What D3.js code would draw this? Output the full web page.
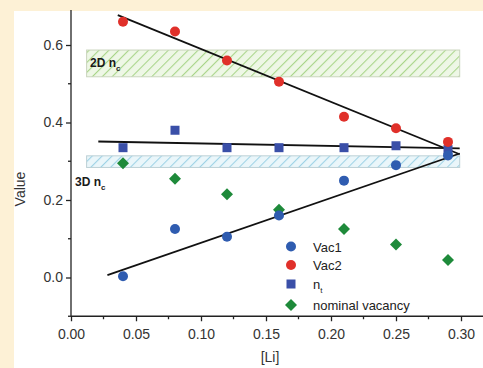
<!DOCTYPE html>
<html><head><meta charset="utf-8">
<script src="https://cdn.jsdelivr.net/npm/d3@7"></script>
<style>body{margin:0;background:#fdf1d6;}svg{display:block;}</style>
</head><body><svg id="c" width="483" height="368"></svg>
<script>
const xs = [0.04, 0.08, 0.12, 0.16, 0.21, 0.25, 0.29];
const vac1 = [0.003, 0.125, 0.105, 0.16, 0.25, 0.29, 0.315];
const vac2 = [0.66, 0.635, 0.56, 0.505, 0.415, 0.385, 0.35];
const nt = [0.335, 0.38, 0.335, 0.335, 0.335, 0.34, 0.33];
const nominal = [0.295, 0.255, 0.215, 0.175, 0.125, 0.085, 0.045];
const fitVac1 = [[0.028, 0.006], [0.299, 0.320]];
const fitVac2 = [[0.036, 0.677], [0.299, 0.318]];
const fitNt = [[0.021, 0.351], [0.299, 0.333]];
const band2D = {x: [0.012, 0.299], y: [0.518, 0.587], label: "2D n", sub: "c"};
const band3D = {x: [0.012, 0.299], y: [0.284, 0.314], label: "3D n", sub: "c"};
const xTicks = [0, 0.05, 0.10, 0.15, 0.20, 0.25, 0.30];
const yTicks = [0.0, 0.2, 0.4, 0.6];
const legendItems = ["Vac1", "Vac2", "n_t", "nominal vacancy"];

const svg = d3.select("#c");
svg.append("rect").attr("x", 14).attr("y", 11).attr("width", 469).attr("height", 357).attr("fill", "#ffffff");

const x = d3.scaleLinear().domain([0, 0.3]).range([71, 461]);
const y = d3.scaleLinear().domain([0, 0.6]).range([277.5, 45]);
const xMin = 0, yMin = -0.1, xMaxPx = 483, yMaxPx = 10;

const defs = svg.append("defs");
function hatch(id, color){
  const p = defs.append("pattern").attr("id", id).attr("patternUnits", "userSpaceOnUse")
    .attr("width", 7).attr("height", 7).attr("patternTransform", "rotate(45)");
  p.append("line").attr("x1", 0).attr("y1", 0).attr("x2", 0).attr("y2", 7)
    .attr("stroke", color).attr("stroke-width", 2.2);
}
hatch("hg", "#a9d58a");
hatch("hb", "#9fd3e6");

function band(b, fillId, fillBg, stroke){
  const r = {x: x(b.x[0]), y: y(b.y[1]), w: x(b.x[1]) - x(b.x[0]), h: y(b.y[0]) - y(b.y[1])};
  svg.append("rect").attr("x", r.x).attr("y", r.y).attr("width", r.w).attr("height", r.h).attr("fill", fillBg);
  svg.append("rect").attr("x", r.x).attr("y", r.y).attr("width", r.w).attr("height", r.h)
    .attr("fill", `url(#${fillId})`).attr("stroke", stroke).attr("stroke-width", 1);
}
band(band2D, "hg", "#eef7e6", "#c9d4bd");
band(band3D, "hb", "#eaf6fa", "#bcd0d6");

function bandLabel(b, px, py){
  const t = svg.append("text").attr("x", px).attr("y", py).attr("font-family", "Arial, Liberation Sans, sans-serif")
    .attr("font-weight", "bold").attr("font-size", 12).attr("fill", "#1a1a1a");
  t.append("tspan").text(b.label);
  t.append("tspan").attr("dy", 4).attr("font-size", 8).text(b.sub);
}
bandLabel(band2D, 90, 67);
bandLabel(band3D, 75, 186);

// axes
const xAxis = d3.axisBottom(x).tickValues(xTicks).tickFormat(d3.format(".2f")).tickSize(5).tickSizeOuter(0);
const gx = svg.append("g").attr("transform", `translate(0,${y(yMin)})`).call(xAxis);
gx.select(".domain").attr("d", `M${x(xMin)},0H${xMaxPx}`);
const xMinor = d3.range(0.025, 0.31, 0.05);
gx.selectAll(".minor").data(xMinor).enter().append("line").attr("x1", d => x(d)).attr("x2", d => x(d))
  .attr("y1", 0).attr("y2", 3).attr("stroke", "#222");

const yAxis = d3.axisLeft(y).tickValues(yTicks).tickFormat(d3.format(".1f")).tickSize(5).tickSizeOuter(0);
const gy = svg.append("g").attr("transform", `translate(${x(xMin)},0)`).call(yAxis);
gy.select(".domain").attr("d", `M0,${y(yMin)}V${yMaxPx}`);
const yMinor = [-0.1, 0.1, 0.3, 0.5];
gy.selectAll(".minor").data(yMinor).enter().append("line").attr("y1", d => y(d)).attr("y2", d => y(d))
  .attr("x1", 0).attr("x2", -3).attr("stroke", "#222");

[gx, gy].forEach(g => {
  g.selectAll("path, line").attr("stroke", "#222").attr("stroke-width", 1.3);
  g.selectAll("text").attr("font-family", "Arial, Liberation Sans, sans-serif").attr("font-size", 14).attr("fill", "#333");
});
gx.selectAll(".tick text").attr("dy", "1.05em");

svg.append("text").attr("x", 270).attr("y", 362).attr("text-anchor", "middle")
  .attr("font-family", "Arial, Liberation Sans, sans-serif").attr("font-size", 14).attr("fill", "#333").text("[Li]");
svg.append("text").attr("transform", "translate(25,189) rotate(-90)").attr("text-anchor", "middle")
  .attr("font-family", "Arial, Liberation Sans, sans-serif").attr("font-size", 14).attr("fill", "#333").text("Value");

// fit lines
const line = d3.line().x(d => x(d[0])).y(d => y(d[1]));
[fitVac1, fitVac2, fitNt].forEach(f => {
  svg.append("path").attr("d", line(f)).attr("stroke", "#111").attr("stroke-width", 1.8).attr("fill", "none");
});

// markers
function circle(g, cx, cy, color){
  g.append("circle").attr("cx", cx).attr("cy", cy).attr("r", 5).attr("fill", color);
}
function square(g, cx, cy){
  g.append("rect").attr("x", cx - 4.5).attr("y", cy - 4.5).attr("width", 9).attr("height", 9).attr("fill", "#3a4fa8");
}
function diamond(g, cx, cy){
  g.append("path").attr("d", `M${cx},${cy-6}L${cx+6},${cy}L${cx},${cy+6}L${cx-6},${cy}Z`).attr("fill", "#1e8a3a");
}
const gm = svg.append("g");
xs.forEach((xv, i) => diamond(gm, x(xv), y(nominal[i])));
xs.forEach((xv, i) => square(gm, x(xv), y(nt[i])));
xs.forEach((xv, i) => circle(gm, x(xv), y(vac2[i]), "#e0302a"));
xs.forEach((xv, i) => circle(gm, x(xv), y(vac1[i]), "#2f5cb0"));

// legend
const lg = svg.append("g");
const ly = [246.5, 265, 284, 305];
circle(lg, 291, ly[0], "#2f5cb0");
circle(lg, 291, ly[1], "#e0302a");
square(lg, 291, ly[2]);
diamond(lg, 291, ly[3]);
legendItems.forEach((t, i) => {
  const tx = lg.append("text").attr("x", 313).attr("y", ly[i] + 5).attr("font-family", "Arial, Liberation Sans, sans-serif")
    .attr("font-size", 13).attr("fill", "#222");
  if (t.includes("_")) {
    const [a, b] = t.split("_");
    tx.append("tspan").text(a);
    tx.append("tspan").attr("dy", 4).attr("font-size", 8).text(b);
  } else tx.text(t);
});
</script></body></html>
